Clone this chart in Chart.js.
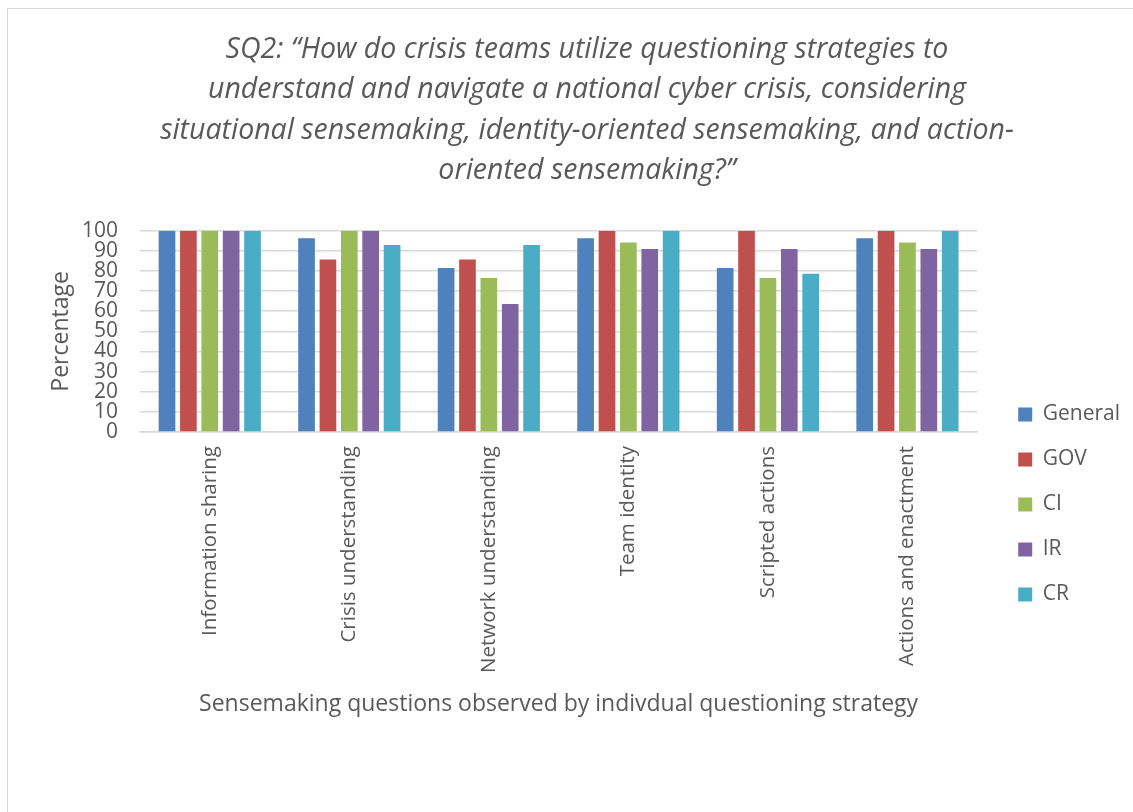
<!DOCTYPE html>
<html>
<head>
<meta charset="utf-8">
<script src="https://cdn.jsdelivr.net/npm/chart.js@4/dist/chart.umd.min.js"></script>
<style>
  body { margin: 0; background: #fff; }
  #wrap {
    position: absolute; left: 7px; top: 8px;
    width: 1125px; height: 803px;
    border-left: 1px solid #d9d9d9; border-top: 1px solid #d9d9d9;
  }
</style>
</head>
<body>
<div id="wrap"><canvas id="sq2Chart"></canvas></div>
<script>
const categories = ['Information sharing', 'Crisis understanding', 'Network understanding', 'Team identity', 'Scripted actions', 'Actions and enactment'];
const general = [100, 96.3, 81.5, 96.3, 81.5, 96.3];
const gov     = [100, 85.7, 85.7, 100, 100, 100];
const ci      = [100, 100, 76.5, 94.1, 76.5, 94.1];
const ir      = [100, 100, 63.6, 90.9, 90.9, 90.9];
const cr      = [100, 92.9, 92.9, 100, 78.6, 100];
const yTicks  = [0, 10, 20, 30, 40, 50, 60, 70, 80, 90, 100];

const grey = '#595959';
const fontName = '"Open Sans"';

const ctx = document.getElementById('sq2Chart');

const data = {
  labels: categories,
  datasets: [
    { label: 'General', data: general, backgroundColor: '#4F81BD' },
    { label: 'GOV', data: gov, backgroundColor: '#C0504D' },
    { label: 'CI', data: ci, backgroundColor: '#9BBB59' },
    { label: 'IR', data: ir, backgroundColor: '#8064A2' },
    { label: 'CR', data: cr, backgroundColor: '#4BACC6' }
  ]
};

const options = {
  responsive: true,
  maintainAspectRatio: false,
  animation: false,
  categoryPercentage: 0.766,
  barPercentage: 0.78,
  layout: { padding: { left: 36, right: 3, top: 0, bottom: 90 } },
  scales: {
    x: {
      grid: { display: false, drawTicks: false },
      border: { display: true, color: '#d9d9d9', width: 1.5 },
      ticks: {
        color: grey, font: { family: fontName, size: 20.5 },
        minRotation: 90, maxRotation: 90, padding: 14, autoSkip: false
      },
      title: {
        display: true,
        text: 'Sensemaking questions observed by indivdual questioning strategy',
        color: grey, font: { family: fontName, size: 23 },
        padding: { top: 4, bottom: 4 }
      },
      afterFit: function (s) { s.height = 290; }
    },
    y: {
      min: 0, max: 100,
      afterBuildTicks: function (s) { s.ticks = yTicks.map(v => ({ value: v })); },
      grid: { color: '#d9d9d9', lineWidth: 1.5, drawTicks: false },
      border: { display: false },
      ticks: {
        color: grey, font: { family: fontName, size: 21 },
        padding: 22, autoSkip: false
      },
      title: {
        display: true, text: 'Percentage',
        color: grey, font: { family: fontName, size: 23 },
        padding: { top: 4, bottom: 4 }
      },
      afterFit: function (s) { s.width = 96; }
    },
    gap: {
      type: 'linear', position: 'right',
      grid: { display: false, drawTicks: false },
      border: { display: false },
      ticks: { display: false },
      afterFit: function (s) { s.width = 17; }
    }
  },
  plugins: {
    title: {
      display: true,
      text: ['SQ2: \u201cHow do crisis teams utilize questioning strategies to',
             'understand and navigate a national cyber crisis, considering',
             'situational sensemaking, identity-oriented sensemaking, and action-',
             'oriented sensemaking?\u201d'],
      color: grey,
      font: { family: fontName, size: 28.5, style: 'italic', weight: 'normal', lineHeight: 1.41 },
      padding: { top: 21, bottom: 40 }
    },
    legend: {
      position: 'right',
      align: 'start',
      title: { display: true, text: ' ', font: { size: 10 }, padding: { top: 359, bottom: 0 } },
      labels: {
        boxWidth: 14, boxHeight: 14, padding: 24,
        color: grey, font: { family: fontName, size: 21 }
      }
    },
    tooltip: { enabled: false }
  }
};

new Chart(ctx, { type: 'bar', data: data, options: options });
</script>
</body>
</html>
